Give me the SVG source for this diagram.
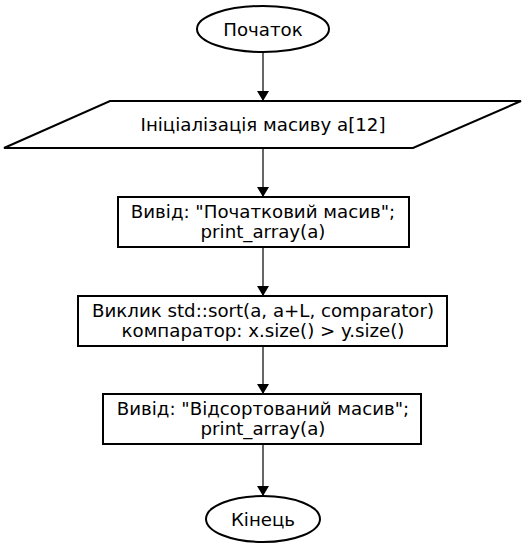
<svg xmlns="http://www.w3.org/2000/svg" width="527" height="547" viewBox="0 0 527 547">
<style>
.n{fill:#fff;stroke:#000;stroke-width:2}
.t{font-family:"DejaVu Sans",sans-serif;font-size:18.2px;text-anchor:middle;fill:#000}
.e{stroke:#000;stroke-width:1.2;fill:none}
</style>
<defs>
<marker id="a" markerWidth="10" markerHeight="12" refX="10" refY="5" orient="auto" markerUnits="userSpaceOnUse" viewBox="0 0 10 10" preserveAspectRatio="none">
<path d="M0,0 L10,5 L0,10 Z" fill="#000"/>
</marker>
</defs>
<rect width="527" height="547" fill="#fff"/>
<g id="edges">
<line class="e" x1="263" y1="52" x2="263" y2="101" marker-end="url(#a)"/>
<line class="e" x1="263" y1="148" x2="263" y2="197" marker-end="url(#a)"/>
<line class="e" x1="263" y1="247" x2="263" y2="296" marker-end="url(#a)"/>
<line class="e" x1="263" y1="346" x2="263" y2="394" marker-end="url(#a)"/>
<line class="e" x1="263" y1="444" x2="263" y2="496" marker-end="url(#a)"/>
</g>
<g id="start">
<ellipse class="n" cx="263" cy="29" rx="66" ry="23"/>
<text class="t" x="263" y="35.5">Початок</text>
</g>
<g id="init">
<polygon class="n" points="110,101 521,101 413,148 4,148"/>
<text class="t" x="263" y="131">Ініціалізація масиву a[12]</text>
</g>
<g id="print1">
<rect class="n" x="118" y="197" width="291" height="50"/>
<text class="t" x="263" y="218">Вивід: "Початковий масив";</text>
<text class="t" x="263" y="238">print_array(a)</text>
</g>
<g id="sort">
<rect class="n" x="78" y="296" width="369" height="50"/>
<text class="t" x="263" y="317">Виклик std::sort(a, a+L, comparator)</text>
<text class="t" x="263" y="337">компаратор: x.size() &gt; y.size()</text>
</g>
<g id="print2">
<rect class="n" x="103" y="394" width="318" height="50"/>
<text class="t" x="263" y="415">Вивід: "Відсортований масив";</text>
<text class="t" x="263" y="435">print_array(a)</text>
</g>
<g id="end">
<ellipse class="n" cx="263" cy="519" rx="57" ry="23"/>
<text class="t" x="263" y="525.5">Кінець</text>
</g>
</svg>
